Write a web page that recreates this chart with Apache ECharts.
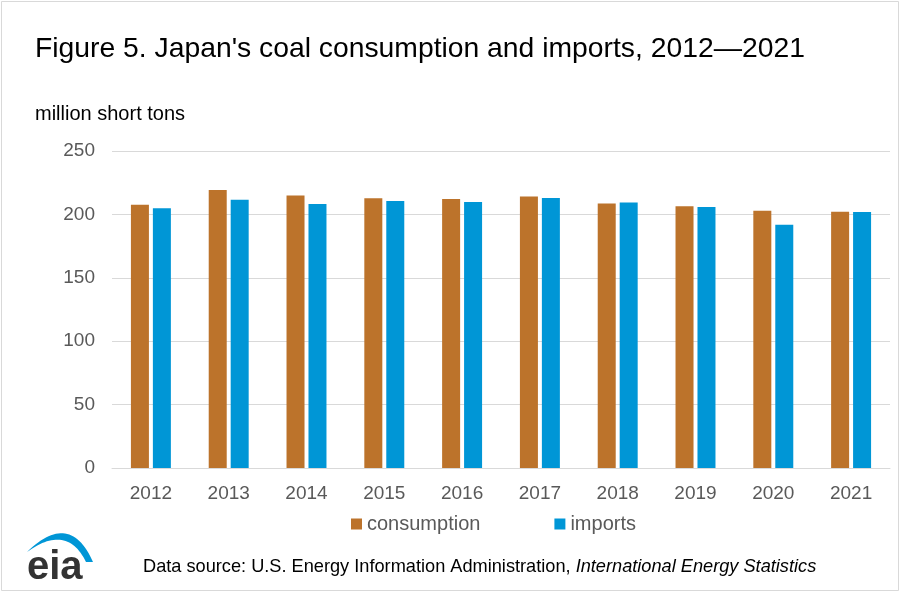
<!DOCTYPE html>
<html>
<head>
<meta charset="utf-8">
<script src="https://cdn.jsdelivr.net/npm/echarts@6/dist/echarts.min.js"></script>
<style>html,body{margin:0;padding:0;background:#fff}#c{width:900px;height:592px}</style>
</head>
<body>
<div id="c"></div>
<script>
const years = ['2012','2013','2014','2015','2016','2017','2018','2019','2020','2021'];
const consumption = [207.6, 219.2, 215.0, 212.7, 212.1, 214.2, 208.5, 206.4, 202.9, 202.1];
const imports = [204.8, 211.6, 208.2, 210.6, 209.8, 212.9, 209.3, 205.8, 191.9, 201.9];
const yTicks = [0, 50, 100, 150, 200, 250];

const font = 'Liberation Sans, Arial, sans-serif';

// eia logo swoosh (decoration): crescent between two quadratic curves
function quad(p0, c, p2, t) {
  const u = 1 - t;
  return [u*u*p0[0] + 2*u*t*c[0] + t*t*p2[0], u*u*p0[1] + 2*u*t*c[1] + t*t*p2[1]];
}
const swoosh = [];
for (let i = 0; i <= 30; i++) swoosh.push(quad([27,552],[70,510],[93,562], i/30));
for (let i = 30; i >= 0; i--) swoosh.push(quad([27,552],[67,523],[86,562], i/30));

const chart = echarts.init(document.getElementById('c'), null, {renderer: 'canvas'});
chart.setOption({
  animation: false,
  backgroundColor: '#fff',
  title: [
    {text: "Figure 5. Japan's coal consumption and imports, 2012\u20142021", left: 30, top: 30,
     textStyle: {fontFamily: font, fontSize: 28.3, fontWeight: 'normal', color: '#000'}},
    {text: 'million short tons', left: 30, top: 99,
     textStyle: {fontFamily: font, fontSize: 20, fontWeight: 'normal', color: '#000'}}
  ],
  legend: {
    data: ['consumption', 'imports'], top: 509, left: 346, icon: 'rect',
    itemWidth: 11, itemHeight: 11, itemGap: 74,
    textStyle: {fontFamily: font, fontSize: 20, color: '#595959'}
  },
  grid: {left: 112, right: 10, top: 151, bottom: 124},
  xAxis: {
    type: 'category', data: years,
    axisLine: {lineStyle: {color: '#d9d9d9'}}, axisTick: {show: false},
    axisLabel: {fontFamily: font, fontSize: 19, color: '#595959', margin: 16}
  },
  yAxis: {
    type: 'value', min: yTicks[0], max: yTicks[yTicks.length-1], interval: 50,
    axisLine: {show: false}, axisTick: {show: false},
    splitLine: {lineStyle: {color: '#d9d9d9', width: 1}},
    axisLabel: {fontFamily: font, fontSize: 19, color: '#595959', margin: 17}
  },
  series: [
    {name: 'consumption', type: 'bar', data: consumption, barWidth: 18, barGap: '22%',
     itemStyle: {color: '#BC732B'}},
    {name: 'imports', type: 'bar', data: imports, barWidth: 18,
     itemStyle: {color: '#0096D6'}}
  ],
  graphic: [
    {type: 'rect', shape: {x: 1.5, y: 1.5, width: 897, height: 589},
     style: {fill: 'none', stroke: '#d9d9d9', lineWidth: 1}, silent: true},
    {type: 'text', x: 143, y: 558,
     style: {rich: {n: {fontFamily: font, fontSize: 18.2, fill: '#000'}, i: {fontFamily: font, fontSize: 18.2, fontStyle: 'italic', fill: '#000'}},
             text: '{n|Data source: U.S. Energy Information Administration, }{i|International Energy Statistics}'}},
    {type: 'text', x: 27, y: 548,
     style: {text: 'eia', fontFamily: font, fontSize: 40, fontWeight: 'bold', fill: '#333333'}},
    {type: 'polygon', shape: {points: swoosh}, style: {fill: '#0096D6'}}
  ]
});
</script>
</body>
</html>
